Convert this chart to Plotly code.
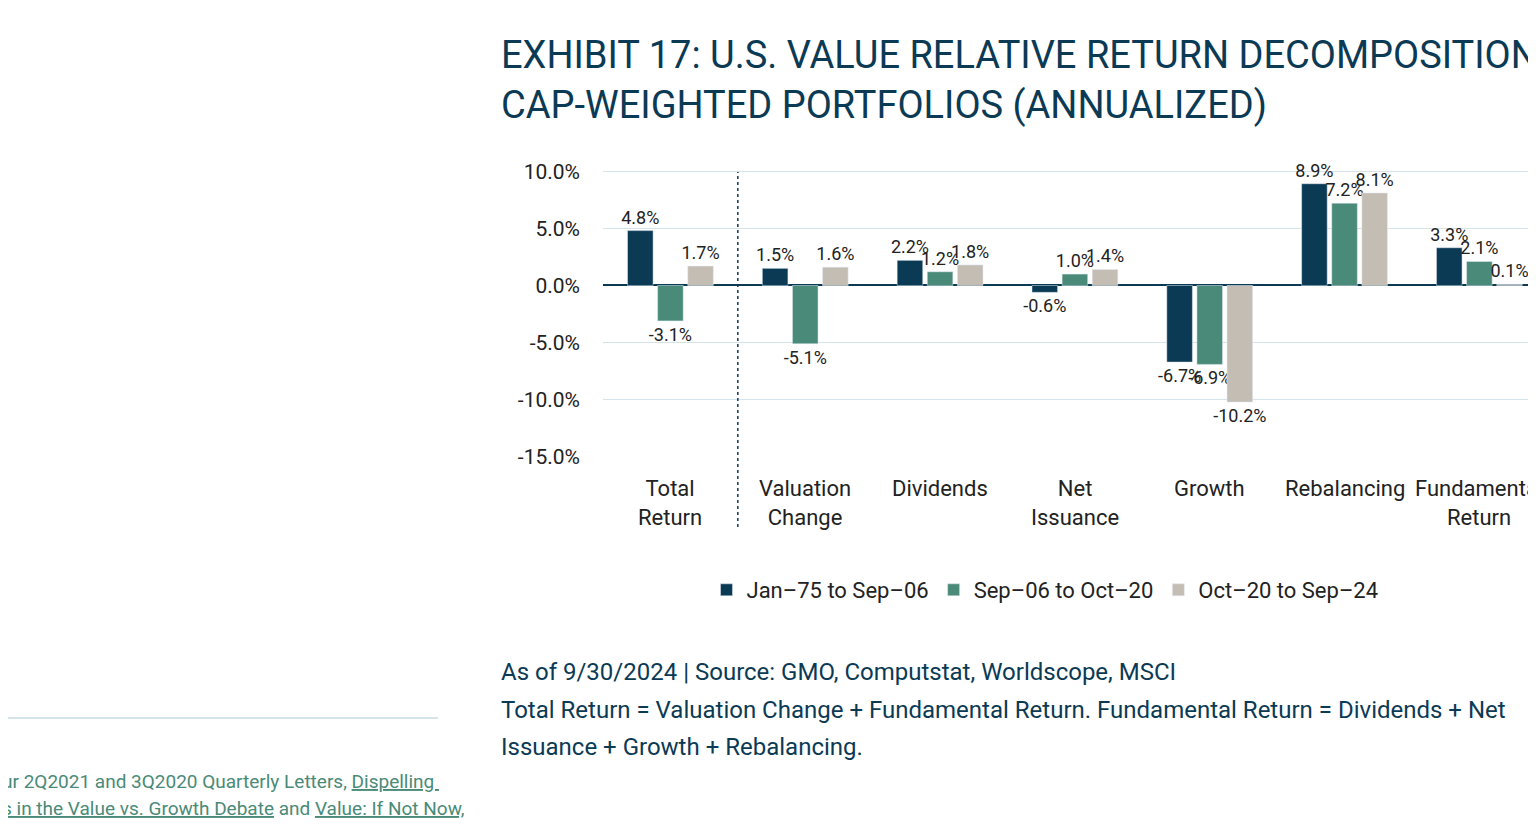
import plotly.graph_objects as go

categories = ["Total<br>Return", "Valuation<br>Change", "Dividends", "Net<br>Issuance", "Growth", "Rebalancing", "Fundamental<br>Return"]
series_names = ["Jan\u201375 to Sep\u201306", "Sep\u201306 to Oct\u201320", "Oct\u201320 to Sep\u201324"]
jan75 = [4.8, 1.5, 2.2, -0.6, -6.7, 8.9, 3.3]
sep06 = [-3.1, -5.1, 1.2, 1.0, -6.9, 7.2, 2.1]
oct20 = [1.7, 1.6, 1.8, 1.4, -10.2, 8.1, 0.1]
colors = ["#0b3a55", "#4a8a78", "#c4bdb3"]
tick_vals = [10, 5, 0, -5, -10, -15]
tick_text = ["10.0%", "5.0%", "0.0%", "-5.0%", "-10.0%", "-15.0%"]

FONT = "Liberation Sans Narrow, Roboto, sans-serif"
NAVY = "#0b3a55"
OFF = 8
W, H = 1536 - OFF, 831 - OFF
L, R, T, B = 603 - OFF, 1536 - OFF, 154 - OFF, 457 - OFF
def xp(x): return (x - OFF - L) / (R - L)
def yp(y): return (B - (y - OFF)) / (B - T)

fig = go.Figure()
for name, vals, c in zip(series_names, [jan75, sep06, oct20], colors):
    fig.add_trace(go.Bar(x=list(range(len(categories))), y=vals, name=name, marker_color=c,
                         text=[f"{v:.1f}%" for v in vals], textposition="outside", constraintext="none",
                         textfont=dict(size=18, color="#222", family=FONT), cliponaxis=False))

fig.update_layout(
    width=W, height=H, margin=dict(l=L, r=W - R, t=T, b=H - B),
    paper_bgcolor="white", plot_bgcolor="white", font=dict(family=FONT, color="#222"),
    barmode="group", bargap=0.33, bargroupgap=0.15,
    xaxis=dict(range=[-0.5, 6.42], showticklabels=False, showgrid=False,
               ticks="", showline=False, zeroline=False),
    yaxis=dict(range=[-15, 11.5], tickvals=tick_vals, ticktext=tick_text, gridcolor="#d5e3ea",
               zeroline=True, zerolinecolor=NAVY, zerolinewidth=2, tickfont=dict(size=21, color="#222"),
               ticklabelstandoff=22),
    legend=dict(orientation="h", x=xp(1045), xanchor="center", y=yp(590), yanchor="middle",
                font=dict(size=22, color="#222"), itemwidth=30, traceorder="normal"),
    showlegend=True,
)
for i, c in enumerate(categories):
    fig.add_annotation(xref="x", yref="paper", x=i, y=yp(474), text=c, showarrow=False,
                       xanchor="center", yanchor="top", font=dict(size=22, color="#222", family=FONT))
fig.add_shape(type="line", xref="x", yref="paper", x0=0.5, x1=0.5, y0=yp(527), y1=yp(172),
              line=dict(color=NAVY, width=1.5, dash="dot"))
fig.add_shape(type="line", xref="paper", yref="paper", x0=xp(499), x1=xp(1536), y0=yp(7), y1=yp(7),
              line=dict(color="#d5e3ea", width=2))
fig.add_shape(type="line", xref="paper", yref="paper", x0=xp(0), x1=xp(438), y0=yp(718), y1=yp(718),
              line=dict(color="#d5e3ea", width=2))
ann = [
    (499, 55, "EXHIBIT 17: U.S. VALUE RELATIVE RETURN DECOMPOSITION", 38),
    (499, 105, "CAP-WEIGHTED PORTFOLIOS (ANNUALIZED)", 38),
    (499, 672, "As of 9/30/2024 | Source: GMO, Computstat, Worldscope, MSCI", 24),
    (499, 710, "Total Return = Valuation Change + Fundamental Return. Fundamental Return = Dividends + Net", 24),
    (499, 747, "Issuance + Growth + Rebalancing.", 24),
]
for x, y, t, s in ann:
    fig.add_annotation(xref="paper", yref="paper", x=xp(x), y=yp(y), text=t, showarrow=False,
                       xanchor="left", yanchor="middle", font=dict(size=s, color=NAVY, family=FONT))
for y, t in [(782, "ur 2Q2021 and 3Q2020 Quarterly Letters, <u>Dispelling </u>"),
             (808, "<u>s in the Value vs. Growth Debate</u> and <u>Value: If Not Now,</u>")]:
    fig.add_annotation(xref="paper", yref="paper", x=xp(0), y=yp(y), text=t, showarrow=False,
                       xanchor="left", yanchor="middle", font=dict(size=19, color="#4a8a78", family=FONT))
fig.write_html("out.html")
